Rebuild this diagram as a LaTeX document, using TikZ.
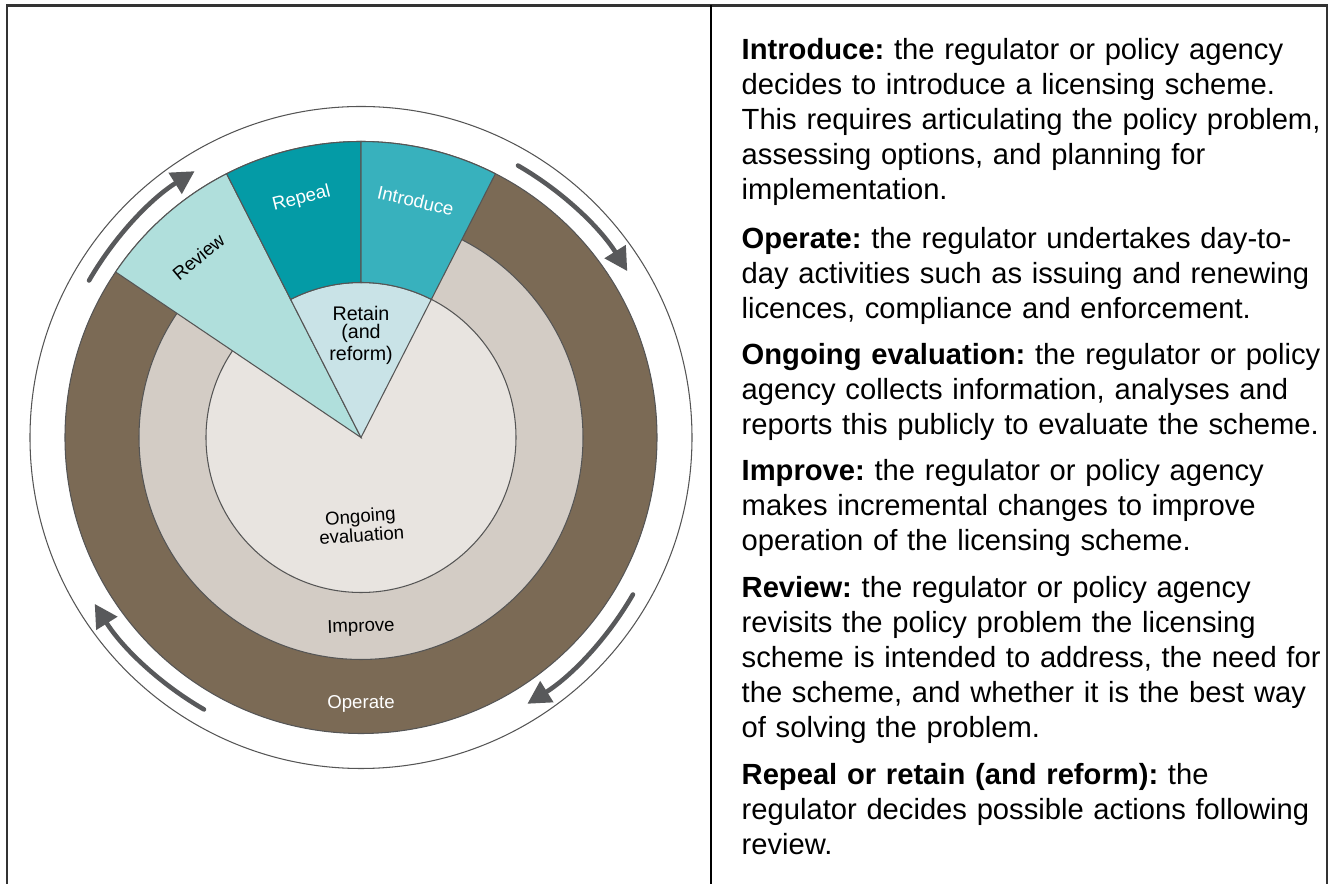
\documentclass[tikz,border=0pt]{standalone}
\usepackage{fontspec}
\setmainfont{Liberation Sans}
\frenchspacing
\usetikzlibrary{arrows.meta}
\definecolor{operatebrown}{RGB}{123, 106, 85}
\definecolor{improvegrey}{RGB}{211, 204, 197}
\definecolor{evalgrey}{RGB}{232, 228, 224}
\definecolor{introteal}{RGB}{56, 177, 189}
\definecolor{repealteal}{RGB}{4, 155, 166}
\definecolor{reviewmint}{RGB}{176, 223, 220}
\definecolor{retainblue}{RGB}{201, 227, 231}
\definecolor{arrowgrey}{RGB}{88, 89, 91}
\definecolor{edgegrey}{RGB}{85, 85, 85}

\begin{document}
\begin{tikzpicture}[
        ring/.style={draw=edgegrey, line width=0.3pt},
        cyclearrow/.style={arrowgrey, line width=1.3pt, line cap=round,
            -{Triangle[length=2.3mm, width=2.4mm]}},
        lbl/.style={font=\fontsize{5.3}{5.4}\selectfont, align=center, inner sep=0pt},
        para/.style={font=\fontsize{8.3}{9.95}\selectfont, text width=6.2cm,
            align=left, anchor=base west, inner sep=0pt}
    ]
            \useasboundingbox (-3.61, 4.375) rectangle (9.69,-4.465);
            % table frame
            \draw[black!80, line width=0.6pt] (-3.54,-4.465) -- (-3.54, 4.32) -- (9.66, 4.32) -- (9.66,-4.465);
            \draw[black, line width=0.5pt]    ( 3.50, 4.32) -- ( 3.50,-4.465);

            % rings, outside in
            \draw[ring]                          (0.00, 0.00) circle (3.31);
            \filldraw[ring, fill=operatebrown]   (0.00, 0.00) circle (2.96);
            \filldraw[ring, fill=improvegrey]    (0.00, 0.00) circle (2.22);
            \filldraw[ring, fill=evalgrey]       (0.00, 0.00) circle (1.55);

            % wedges at the top
            \filldraw[ring, fill=reviewmint] (0.00, 0.00) -- (117:2.96) arc (117:146:2.96) -- cycle;
            \filldraw[ring, fill=retainblue] (0.00, 0.00) -- (63:1.55) arc (63:117:1.55) -- cycle;
            \filldraw[ring, fill=repealteal] (90:1.55) -- (90:2.96) arc (90:117:2.96) -- (117:1.55) arc (117:90:1.55) -- cycle;
            \filldraw[ring, fill=introteal]  (63:1.55) -- (63:2.96) arc (63:90:2.96)  -- (90:1.55) arc (90:63:1.55) -- cycle;

            % clockwise arrows
            \draw[cyclearrow] (150:3.14) arc (150:122:3.14);
            \draw[cyclearrow] ( 60:3.14) arc ( 60: 32:3.14);
            \draw[cyclearrow] (-30:3.14) arc (-30:-58:3.14);
            \draw[cyclearrow] (-120:3.14) arc (-120:-148:3.14);

            % stage labels
            \node[lbl, white, rotate=-13] (introlbl)   at ( 77:2.43)   {Introduce};
            \node[lbl, white, rotate=14]  (repeallbl)  at (104:2.46)   {Repeal};
            \node[lbl, rotate=40]         (reviewlbl)  at (132:2.43)   {Review};
            \node[lbl, font=\fontsize{5.6}{5.1}\selectfont]
                                          (retainlbl)  at (0.00, 1.02) {Retain\\(and\\reform)};
            \node[lbl, rotate=4]          (evallbl)    at (0.00,-0.88) {Ongoing\\evaluation};
            \node[lbl, rotate=2]          (improvelbl) at (0.00,-1.90) {Improve};
            \node[lbl, white]             (operatelbl) at (0.00,-2.66) {Operate};

            % descriptions
            \node[para] (introtxt) at (3.80, 3.775) {\textbf{Introduce:} the regulator or policy agency\\
                decides to introduce a licensing scheme.\\
                This requires articulating the policy problem,\\
                assessing options, and planning for\\
                implementation.};
            \node[para] (operatetxt) at (3.80, 1.885) {\textbf{Operate:} the regulator undertakes day-to-\\
                day activities such as issuing and renewing\\
                licences, compliance and enforcement.};
            \node[para] (evaltxt) at (3.80, 0.725) {\textbf{Ongoing evaluation:} the regulator or policy\\
                agency collects information, analyses and\\
                reports this publicly to evaluate the scheme.};
            \node[para] (improvetxt) at (3.80,-0.435) {\textbf{Improve:} the regulator or policy agency\\
                makes incremental changes to improve\\
                operation of the licensing scheme.};
            \node[para] (reviewtxt) at (3.80,-1.605) {\textbf{Review:} the regulator or policy agency\\
                revisits the policy problem the licensing\\
                scheme is intended to address, the need for\\
                the scheme, and whether it is the best way\\
                of solving the problem.};
            \node[para] (repealtxt) at (3.80,-3.475) {\textbf{Repeal or retain (and reform):} the\\
                regulator decides possible actions following\\
                review.};
\end{tikzpicture}
\end{document}
